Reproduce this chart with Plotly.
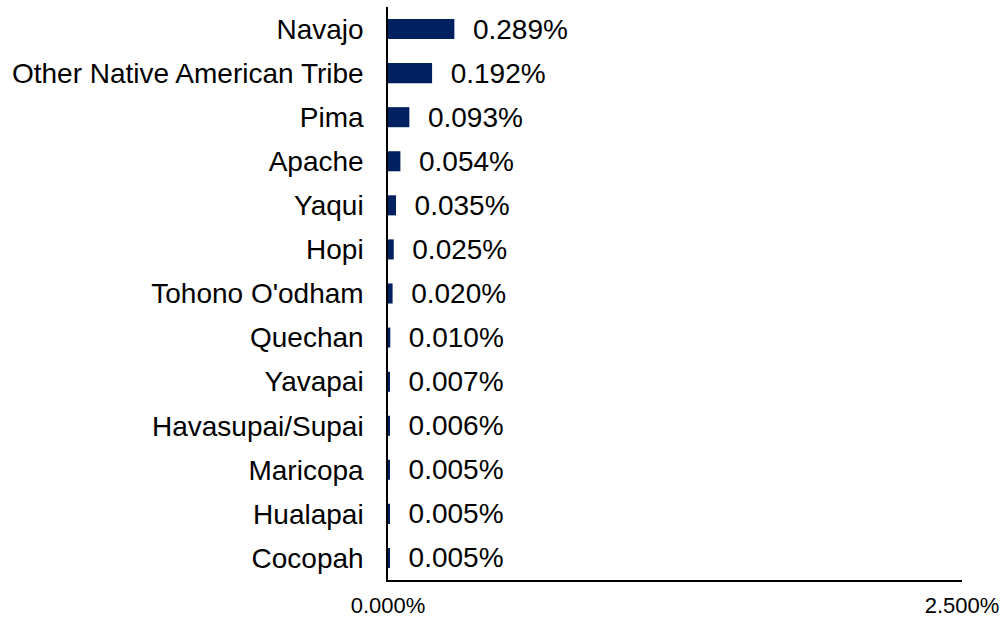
import plotly.graph_objects as go

categories = ["Navajo", "Other Native American Tribe", "Pima", "Apache", "Yaqui", "Hopi",
              "Tohono O'odham", "Quechan", "Yavapai", "Havasupai/Supai", "Maricopa",
              "Hualapai", "Cocopah"]
values = [0.289, 0.192, 0.093, 0.054, 0.035, 0.025, 0.020, 0.010, 0.007, 0.006, 0.005, 0.005, 0.005]
x_ticks = [0.0, 2.5]
x_tick_labels = ["0.000%", "2.500%"]

FONT = "Liberation Sans, Arial, sans-serif"

fig = go.Figure(go.Bar(
    x=values,
    y=categories,
    orientation="h",
    marker=dict(color="#002060", line=dict(width=0)),
    texttemplate="\u00a0\u00a0%{x:.3f}%",
    textposition="outside",
    constraintext="none",
    cliponaxis=False,
    textfont=dict(family=FONT, size=28, color="#000000"),
    hoverinfo="skip",
))

fig.update_layout(
    width=1005, height=620,
    margin=dict(l=388, r=43, t=7, b=40),
    paper_bgcolor="white", plot_bgcolor="white",
    bargap=0.545,
    showlegend=False,
    font=dict(family=FONT, color="#000000"),
)
fig.update_xaxes(
    range=[0, 2.5],
    tickvals=x_ticks, ticktext=x_tick_labels,
    showgrid=False, zeroline=False,
    showline=True, linecolor="#000000", linewidth=1.5,
    ticks="", tickfont=dict(family=FONT, size=22, color="#000000"),
    ticklabelstandoff=5,
    automargin=False,
)
fig.update_yaxes(
    autorange="reversed",
    showgrid=False, zeroline=False,
    showline=True, linecolor="#000000", linewidth=1.5,
    ticks="", tickfont=dict(family=FONT, size=28, color="#000000"),
    ticklabelstandoff=17,
    automargin=False,
)

fig.write_html("out.html")
